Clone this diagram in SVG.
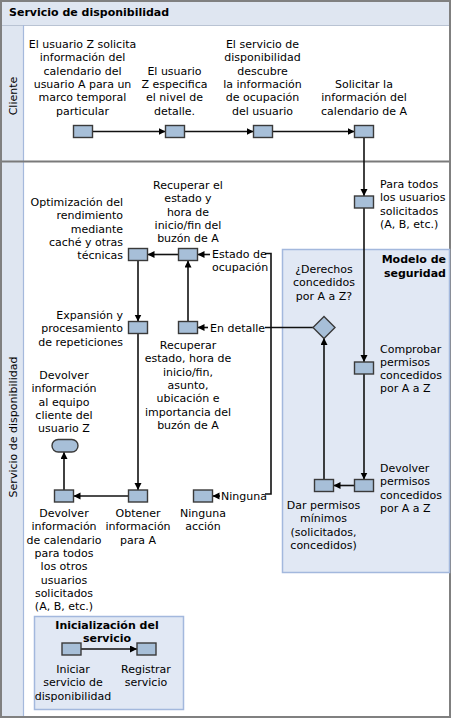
<svg xmlns="http://www.w3.org/2000/svg" width="452" height="719" viewBox="0 0 452 719">
<style>
text{font-family:"DejaVu Sans",Verdana,sans-serif;font-size:11px;fill:#000}
.b{font-weight:bold}
.m{text-anchor:middle}
.e{text-anchor:end}
.n{fill:#a7bfd8;stroke:#3a3a3a;stroke-width:1.4}
.c{fill:none;stroke:#111;stroke-width:1.6}
.a{marker-end:url(#ah)}
.box{fill:#e1e8f4;stroke:#a3b8dd;stroke-width:1.5}
</style>
<defs>
<marker id="ah" markerUnits="userSpaceOnUse" markerWidth="8" markerHeight="8" refX="7" refY="3.5" orient="auto">
<path d="M0,0 L7,3.5 L0,7 z" fill="#000"/>
</marker>
</defs>
<rect x="0" y="0" width="452" height="719" fill="#fff"/>
<g id="frame">
<rect x="1" y="1" width="449" height="24" fill="#dfe6f1"/>
<rect x="1" y="25" width="22.5" height="692" fill="#dfe6f1"/>
<line x1="1" y1="25.5" x2="450" y2="25.5" stroke="#b9c3d3" stroke-width="1"/>
<line x1="23.5" y1="25" x2="23.5" y2="717" stroke="#a5b9dc" stroke-width="1.2"/>
<line x1="0" y1="161.5" x2="451" y2="161.5" stroke="#7a7a7a" stroke-width="2"/>
<rect x="1" y="1" width="449" height="716" fill="none" stroke="#808080" stroke-width="2"/>
<text class="b" x="9" y="15.8">Servicio de disponibilidad</text>
<text class="m" transform="translate(16.5,96) rotate(-90)">Cliente</text>
<text class="m" transform="translate(16.5,427) rotate(-90)">Servicio de disponibilidad</text>
</g>
<g id="security-model">
<rect class="box" x="282.5" y="249.5" width="167" height="323"/>
<text class="b e" x="446" y="263">Modelo de</text>
<text class="b e" x="446" y="276.5">seguridad</text>
</g>
<g id="init-service">
<rect class="box" x="34.5" y="616.5" width="149" height="93"/>
<text class="b m" x="107" y="629">Inicialización del</text>
<text class="b m" x="107" y="642">servicio</text>
</g>
<g id="connectors">
<path class="c a" d="M92.5,131.5 H165.5"/>
<path class="c a" d="M184.5,131.5 H253.5"/>
<path class="c a" d="M272.5,131.5 H354.5"/>
<path class="c a" d="M364,137.5 V196"/>
<path class="c a" d="M364,208 V362"/>
<path class="c a" d="M364,374 V479.5"/>
<path class="c a" d="M354.5,485.5 H333.5"/>
<path class="c a" d="M324,479.5 V338"/>
<path class="c" d="M313,327.5 H265"/>
<path class="c" d="M265,253.5 H271 V494 H265"/>
<path class="c a" d="M210,254.5 H197.5"/>
<path class="c a" d="M208,327.5 H197.5"/>
<path class="c a" d="M220,496 H212.5"/>
<path class="c a" d="M178.5,254.5 H147.5"/>
<path class="c a" d="M138,260.5 V321.5"/>
<path class="c a" d="M188,321.5 V260.5"/>
<path class="c a" d="M138,333.5 V490"/>
<path class="c a" d="M128.5,496 H73.5"/>
<path class="c a" d="M64,490 V452"/>
<path class="c a" d="M81,649 H137"/>
</g>
<g id="n-solicita">
<rect class="n" x="73.5" y="125.5" width="19" height="12"/>
<text class="m" x="82.5" y="48">El usuario Z solicita</text>
<text class="m" x="82.5" y="61.3">información del</text>
<text class="m" x="82.5" y="74.6">calendario del</text>
<text class="m" x="82.5" y="88">usuario A para un</text>
<text class="m" x="82.5" y="101.3">marco temporal</text>
<text class="m" x="82.5" y="114.6">particular</text>
</g>
<g id="n-especifica">
<rect class="n" x="165.5" y="125.5" width="19" height="12"/>
<text class="m" x="174.5" y="74.6">El usuario</text>
<text class="m" x="174.5" y="88">Z especifica</text>
<text class="m" x="174.5" y="101.3">el nivel de</text>
<text class="m" x="174.5" y="114.6">detalle.</text>
</g>
<g id="n-descubre">
<rect class="n" x="253.5" y="125.5" width="19" height="12"/>
<text class="m" x="262.5" y="48">El servicio de</text>
<text class="m" x="262.5" y="61.3">disponibilidad</text>
<text class="m" x="262.5" y="74.6">descubre</text>
<text class="m" x="262.5" y="88">la información</text>
<text class="m" x="262.5" y="101.3">de ocupación</text>
<text class="m" x="262.5" y="114.6">del usuario</text>
</g>
<g id="n-solicitar">
<rect class="n" x="354.5" y="125.5" width="19" height="12"/>
<text class="m" x="364" y="88">Solicitar la</text>
<text class="m" x="364" y="101.3">información del</text>
<text class="m" x="364" y="114.6">calendario de A</text>
</g>
<g id="n-para-todos">
<rect class="n" x="354.5" y="196" width="19" height="12"/>
<text x="380" y="188">Para todos</text>
<text x="380" y="201.3">los usuarios</text>
<text x="380" y="214.6">solicitados</text>
<text x="380" y="228">(A, B, etc.)</text>
</g>
<g id="n-derechos">
<path class="n" d="M324,316.5 L335,327.5 L324,338.5 L313,327.5 z"/>
<text class="m" x="324" y="273">¿Derechos</text>
<text class="m" x="324" y="286.3">concedidos</text>
<text class="m" x="324" y="299.6">por A a Z?</text>
</g>
<g id="n-comprobar">
<rect class="n" x="354.5" y="362" width="19" height="12"/>
<text x="380" y="352.5">Comprobar</text>
<text x="380" y="365.8">permisos</text>
<text x="380" y="379.1">concedidos</text>
<text x="380" y="392.4">por A a Z</text>
</g>
<g id="n-devolver-permisos">
<rect class="n" x="354.5" y="479.5" width="19" height="12"/>
<text x="380" y="472">Devolver</text>
<text x="380" y="485.3">permisos</text>
<text x="380" y="498.6">concedidos</text>
<text x="380" y="512">por A a Z</text>
</g>
<g id="n-dar-permisos">
<rect class="n" x="314.5" y="479.5" width="19" height="12"/>
<text class="m" x="323.5" y="509">Dar permisos</text>
<text class="m" x="323.5" y="522.3">mínimos</text>
<text class="m" x="323.5" y="535.6">(solicitados,</text>
<text class="m" x="323.5" y="549">concedidos)</text>
</g>
<g id="n-recuperar-estado">
<rect class="n" x="178.5" y="248.5" width="19" height="12"/>
<text class="m" x="188" y="189">Recuperar el</text>
<text class="m" x="188" y="202.3">estado y</text>
<text class="m" x="188" y="215.6">hora de</text>
<text class="m" x="188" y="229">inicio/fin del</text>
<text class="m" x="188" y="242.3">buzón de A</text>
</g>
<g id="n-optimizacion">
<rect class="n" x="128.5" y="248.5" width="19" height="12"/>
<text class="e" x="123" y="206">Optimización del</text>
<text class="e" x="123" y="219.3">rendimiento</text>
<text class="e" x="123" y="232.6">mediante</text>
<text class="e" x="123" y="246">caché y otras</text>
<text class="e" x="123" y="259.3">técnicas</text>
</g>
<g id="n-expansion">
<rect class="n" x="128.5" y="321.5" width="19" height="12"/>
<text class="e" x="123" y="319">Expansión y</text>
<text class="e" x="123" y="332.3">procesamiento</text>
<text class="e" x="123" y="345.6">de repeticiones</text>
</g>
<g id="n-recuperar-detalle">
<rect class="n" x="178.5" y="321.5" width="19" height="12"/>
<text class="m" x="188" y="349">Recuperar</text>
<text class="m" x="188" y="362.3">estado, hora de</text>
<text class="m" x="188" y="375.6">inicio/fin,</text>
<text class="m" x="188" y="389">asunto,</text>
<text class="m" x="188" y="402.3">ubicación e</text>
<text class="m" x="188" y="415.6">importancia del</text>
<text class="m" x="188" y="429">buzón de A</text>
</g>
<g id="n-ninguna">
<rect class="n" x="193.5" y="490" width="19" height="12"/>
<text class="m" x="203" y="517">Ninguna</text>
<text class="m" x="203" y="530.3">acción</text>
</g>
<g id="n-obtener">
<rect class="n" x="128.5" y="490" width="19" height="12"/>
<text class="m" x="138" y="517">Obtener</text>
<text class="m" x="138" y="530.3">información</text>
<text class="m" x="138" y="543.6">para A</text>
</g>
<g id="n-devolver-info">
<rect class="n" x="54.5" y="490" width="19" height="12"/>
<text class="m" x="64" y="517">Devolver</text>
<text class="m" x="64" y="530.3">información</text>
<text class="m" x="64" y="543.6">de calendario</text>
<text class="m" x="64" y="557">para todos</text>
<text class="m" x="64" y="570.3">los otros</text>
<text class="m" x="64" y="583.6">usuarios</text>
<text class="m" x="64" y="597">solicitados</text>
<text class="m" x="64" y="610.3">(A, B, etc.)</text>
</g>
<g id="n-devolver-cliente">
<rect class="n" x="52" y="439.5" width="26" height="12.5" rx="6.2"/>
<text class="m" x="64" y="379">Devolver</text>
<text class="m" x="64" y="392.3">información</text>
<text class="m" x="64" y="405.6">al equipo</text>
<text class="m" x="64" y="419">cliente del</text>
<text class="m" x="64" y="432.3">usuario Z</text>
</g>
<g id="labels">
<text x="212" y="258">Estado de</text>
<text x="212" y="271.3">ocupación</text>
<text x="210" y="331.5">En detalle</text>
<text x="221" y="500">Ninguna</text>
</g>
<g id="n-iniciar">
<rect class="n" x="62" y="643" width="19" height="12"/>
<text class="m" x="73" y="673">Iniciar</text>
<text class="m" x="73" y="686.3">servicio de</text>
<text class="m" x="73" y="699.6">disponibilidad</text>
</g>
<g id="n-registrar">
<rect class="n" x="137" y="643" width="19" height="12"/>
<text class="m" x="146" y="673">Registrar</text>
<text class="m" x="146" y="686.3">servicio</text>
</g>
</svg>
